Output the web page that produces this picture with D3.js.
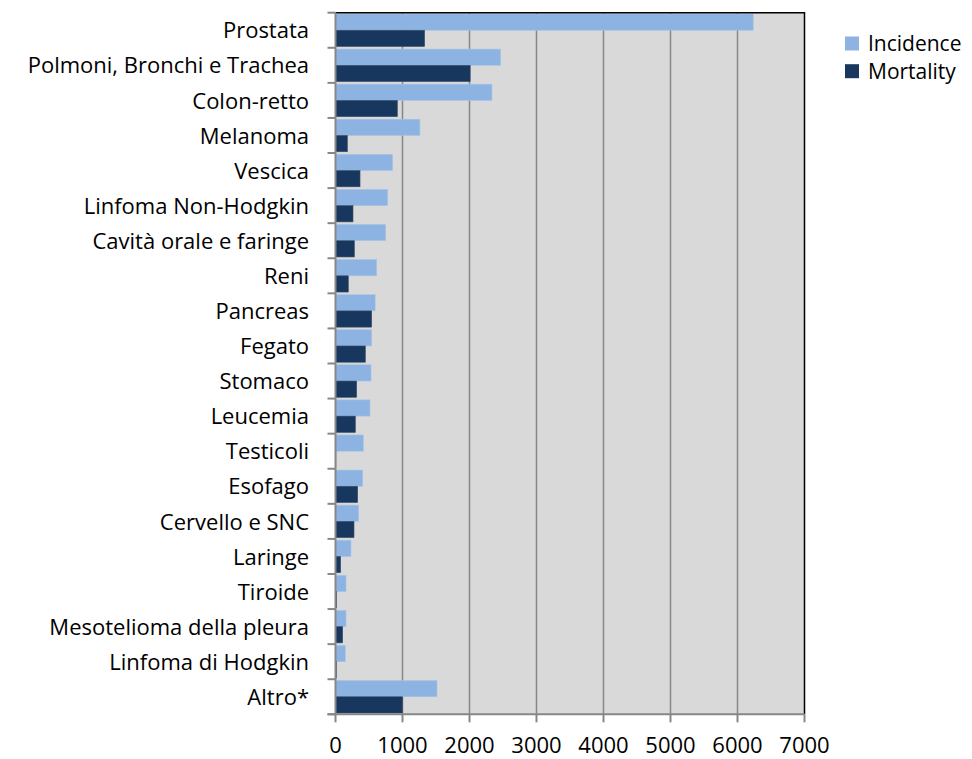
<!DOCTYPE html>
<html>
<head>
<meta charset="utf-8">
<script src="https://cdn.jsdelivr.net/npm/d3@7"></script>
<style>
  body { margin: 0; background: #fff; }
  #chart { width: 972px; height: 759px; }
  text { font-family: "Open Sans", Lato, sans-serif; fill: #000; }
</style>
</head>
<body>
<div id="chart"></div>
<script>
// data
const categories = ["Prostata", "Polmoni, Bronchi e Trachea", "Colon-retto", "Melanoma", "Vescica",
  "Linfoma Non-Hodgkin", "Cavità orale e faringe", "Reni", "Pancreas", "Fegato", "Stomaco",
  "Leucemia", "Testicoli", "Esofago", "Cervello e SNC", "Laringe", "Tiroide",
  "Mesotelioma della pleura", "Linfoma di Hodgkin", "Altro*"];
const incidence = [6235, 2465, 2335, 1260, 853, 779, 749, 615, 592, 540, 530, 515, 415, 406, 346, 231, 157, 157, 146, 1515];
const mortality = [1330, 2010, 923, 177, 366, 261, 281, 191, 540, 445, 316, 296, 5, 331, 276, 77, 18, 107, 15, 1000];
const seriesNames = ["Incidence", "Mortality"];
const xTicks = [0, 1000, 2000, 3000, 4000, 5000, 6000, 7000];

const colors = ["#8db3e2", "#17375e"];

const chartDiv = d3.select('#chart');
const width = 972, height = 759;

const svg = chartDiv.append("svg")
  .attr('width', width)
  .attr('height', height);

const plotLeft = 335.5, plotRight = 804.5, plotTop = 12.7, plotBottom = 714.3;

const x = d3.scaleLinear().domain([0, 7000]).range([plotLeft, plotRight]);
const y = d3.scaleBand().domain(categories).range([plotTop, plotBottom]);
const inner = d3.scaleBand().domain(seriesNames).range([0, y.bandwidth()]).paddingOuter(0.08);

// plot background
svg.append("rect")
  .attr("x", plotLeft).attr("y", plotTop)
  .attr("width", plotRight - plotLeft).attr("height", plotBottom - plotTop)
  .attr("fill", "#d9d9d9");

// gridlines
svg.append("g").selectAll("line")
  .data(xTicks.slice(1, -1))
  .join("line")
  .attr("x1", d => x(d)).attr("x2", d => x(d))
  .attr("y1", plotTop).attr("y2", plotBottom)
  .attr("stroke", "#878787").attr("stroke-width", 1.5);

// bars
const rows = categories.map((c, i) => ({ cat: c, values: [incidence[i], mortality[i]] }));
const groups = svg.append("g").selectAll("g")
  .data(rows)
  .join("g")
  .attr("transform", d => `translate(0,${y(d.cat)})`);

groups.selectAll("rect")
  .data(d => d.values.map((v, j) => ({ name: seriesNames[j], value: v, j })))
  .join("rect")
  .attr("x", x(0))
  .attr("y", d => inner(d.name))
  .attr("width", d => x(d.value) - x(0))
  .attr("height", inner.bandwidth())
  .attr("fill", d => colors[d.j])
  .attr("stroke", d => d.j === 0 ? "#a9c4e8" : "#3b4e66")
  .attr("stroke-width", 0.6);

// top and right border
svg.append("path")
  .attr("d", `M${plotLeft},${plotTop}H${plotRight}V${plotBottom}`)
  .attr("fill", "none").attr("stroke", "#000").attr("stroke-width", 1.5);

// y axis
const yAxis = svg.append("g");
yAxis.append("line")
  .attr("x1", plotLeft).attr("x2", plotLeft).attr("y1", plotTop).attr("y2", plotBottom)
  .attr("stroke", "#878787").attr("stroke-width", 2);
yAxis.selectAll(".ytick")
  .data(categories.concat([null]))
  .join("line")
  .attr("class", "ytick")
  .attr("x1", plotLeft - 8).attr("x2", plotLeft)
  .attr("y1", (d, i) => plotTop + i * y.step()).attr("y2", (d, i) => plotTop + i * y.step())
  .attr("stroke", "#878787").attr("stroke-width", 2);
yAxis.selectAll("text")
  .data(categories)
  .join("text")
  .attr("x", 309)
  .attr("y", d => y(d) + y.bandwidth() / 2)
  .attr("dy", "0.37em")
  .attr("text-anchor", "end")
  .style("font-size", "22px")
  .text(d => d);

// x axis
const xAxis = svg.append("g");
xAxis.append("line")
  .attr("x1", plotLeft - 8).attr("x2", plotRight).attr("y1", plotBottom).attr("y2", plotBottom)
  .attr("stroke", "#878787").attr("stroke-width", 2);
xAxis.selectAll(".xtick")
  .data(xTicks)
  .join("line")
  .attr("class", "xtick")
  .attr("x1", d => x(d)).attr("x2", d => x(d))
  .attr("y1", plotBottom).attr("y2", plotBottom + 8)
  .attr("stroke", "#878787").attr("stroke-width", 2);
xAxis.selectAll("text")
  .data(xTicks)
  .join("text")
  .attr("x", d => x(d))
  .attr("y", 753)
  .attr("text-anchor", "middle")
  .style("font-size", "22px")
  .text(d => d);

// legend
const legend = svg.append("g").attr("transform", "translate(845,36.5)");
const legendItems = legend.selectAll("g")
  .data(seriesNames)
  .join("g")
  .attr("transform", (d, i) => `translate(0,${i * 27.7})`);
legendItems.append("rect")
  .attr("width", 14).attr("height", 14)
  .attr("fill", (d, i) => colors[i]);
legendItems.append("text")
  .attr("x", 23).attr("y", 7).attr("dy", "0.37em")
  .style("font-size", "21px")
  .text(d => d);
</script>
</body>
</html>
